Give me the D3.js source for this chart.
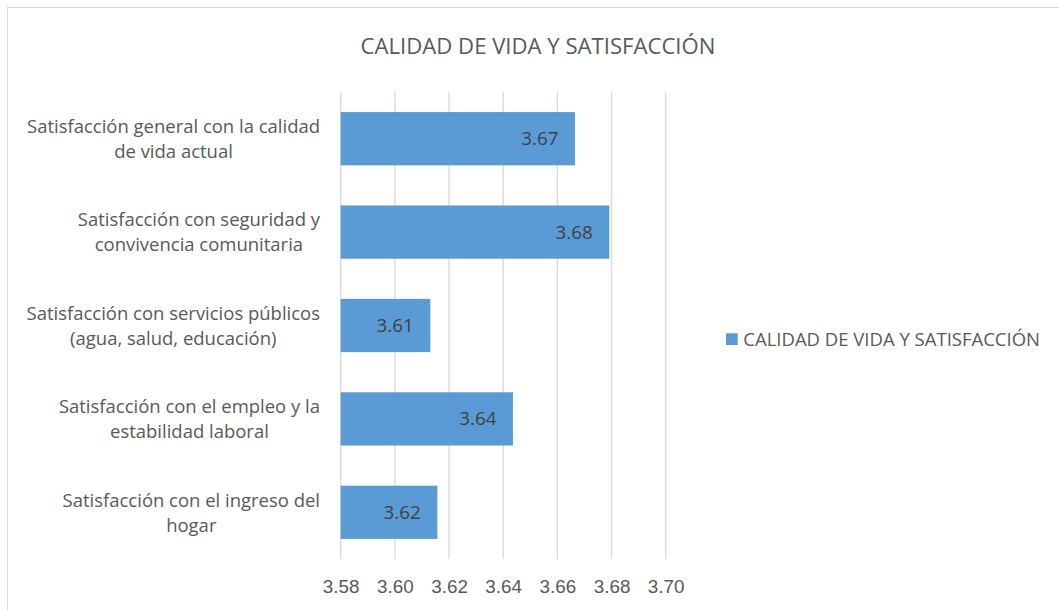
<!DOCTYPE html>
<html>
<head>
<meta charset="utf-8">
<script src="https://cdn.jsdelivr.net/npm/d3@7"></script>
<style>
  html, body { margin: 0; padding: 0; background: #fff; }
  svg { display: block; font-family: "Open Sans", "Noto Sans", sans-serif; }
</style>
</head>
<body>
<svg id="chart" width="1059" height="610"></svg>
<script>
const chartTitle = "CALIDAD DE VIDA Y SATISFACCIÓN";
const seriesName = "CALIDAD DE VIDA Y SATISFACCIÓN";
const categories = [
  ["Satisfacción general con la calidad", "de vida actual"],
  ["Satisfacción con seguridad y", "convivencia comunitaria"],
  ["Satisfacción con servicios públicos", "(agua, salud, educación)"],
  ["Satisfacción con el empleo y la", "estabilidad laboral"],
  ["Satisfacción con el ingreso del", "hogar"]
];
const values = [3.6665, 3.6792, 3.6131, 3.6436, 3.6157];
const xTicks = [3.58, 3.60, 3.62, 3.64, 3.66, 3.68, 3.70];

const W = 1059, H = 610;
const svg = d3.select("#chart");
const barColor = "#5B9BD5", textColor = "#595959", labelColor = "#404040", gridColor = "#D9D9D9";

// chart border
svg.append("rect").attr("x", 7.5).attr("y", 7.5).attr("width", 1070).attr("height", 620)
  .attr("fill", "#fff").attr("stroke", gridColor).attr("stroke-width", 1);

function fit(sel, target) {
  const w = sel.node().getComputedTextLength();
  const fs = parseFloat(sel.attr("font-size"));
  return fs * target / w;
}

const x = d3.scaleLinear().domain([3.58, 3.70]).range([340.7, 665.7]);
const keys = categories.map((d, i) => i);
const y = d3.scaleBand().domain(keys).range([92, 559]).paddingInner(0.43).paddingOuter(0.215);

// title
const title = svg.append("text").attr("x", 538).attr("y", 54).attr("text-anchor", "middle")
  .attr("fill", textColor).attr("font-size", 20).text(chartTitle);
title.attr("font-size", fit(title, 355));

// gridlines
svg.append("g").selectAll("line").data(xTicks).join("line")
  .attr("x1", d => x(d)).attr("x2", d => x(d))
  .attr("y1", 92).attr("y2", 559)
  .attr("stroke", gridColor).attr("stroke-width", 1.3);

// x axis labels
const axis = svg.append("g").attr("transform", "translate(0,559)")
  .call(d3.axisBottom(x).tickValues(xTicks).tickFormat(d3.format(".2f")).tickSize(0).tickPadding(0));
axis.select(".domain").remove();
axis.selectAll("text").attr("fill", textColor).attr("font-family", null)
  .attr("dy", null).attr("y", 34).attr("font-size", 17);
const tickFs = fit(axis.select("text"), 36.7);
axis.selectAll("text").attr("font-size", tickFs);

// bars
svg.append("g").selectAll("rect").data(values).join("rect")
  .attr("x", x(3.58)).attr("y", (d, i) => y(i))
  .attr("width", d => x(d) - x(3.58)).attr("height", y.bandwidth())
  .attr("fill", barColor);

// data labels
const dl = svg.append("g").selectAll("text").data(values).join("text")
  .attr("x", d => x(d) - 16.5).attr("y", (d, i) => y(i) + y.bandwidth() / 2 + 6.5)
  .attr("text-anchor", "end").attr("fill", labelColor).attr("font-size", tickFs)
  .text(d => d3.format(".2f")(d));

// category labels
const catG = svg.append("g");
const catFsSample = catG.append("text").attr("font-size", 17).text(categories[0][0]);
const catFs = fit(catFsSample, 293);
catFsSample.remove();
categories.forEach((lines, i) => {
  const cy = y(i) + y.bandwidth() / 2;
  const t = catG.append("text").attr("fill", textColor).attr("font-size", catFs).attr("text-anchor", "middle");
  lines.forEach((ln, j) => {
    t.append("tspan").attr("y", cy - 5.7 + j * 25).text(ln);
  });
  let maxW = 0;
  t.selectAll("tspan").each(function() { maxW = Math.max(maxW, this.getComputedTextLength()); });
  t.selectAll("tspan").attr("x", 320 - maxW / 2);
});

// legend
const lg = svg.append("g");
lg.append("rect").attr("x", 726).attr("y", 333.3).attr("width", 11.7).attr("height", 11.7).attr("fill", barColor);
const lt = lg.append("text").attr("x", 743.3).attr("y", 346).attr("fill", textColor).attr("font-size", 17).text(seriesName);
lt.attr("font-size", fit(lt, 297));
</script>
</body>
</html>
